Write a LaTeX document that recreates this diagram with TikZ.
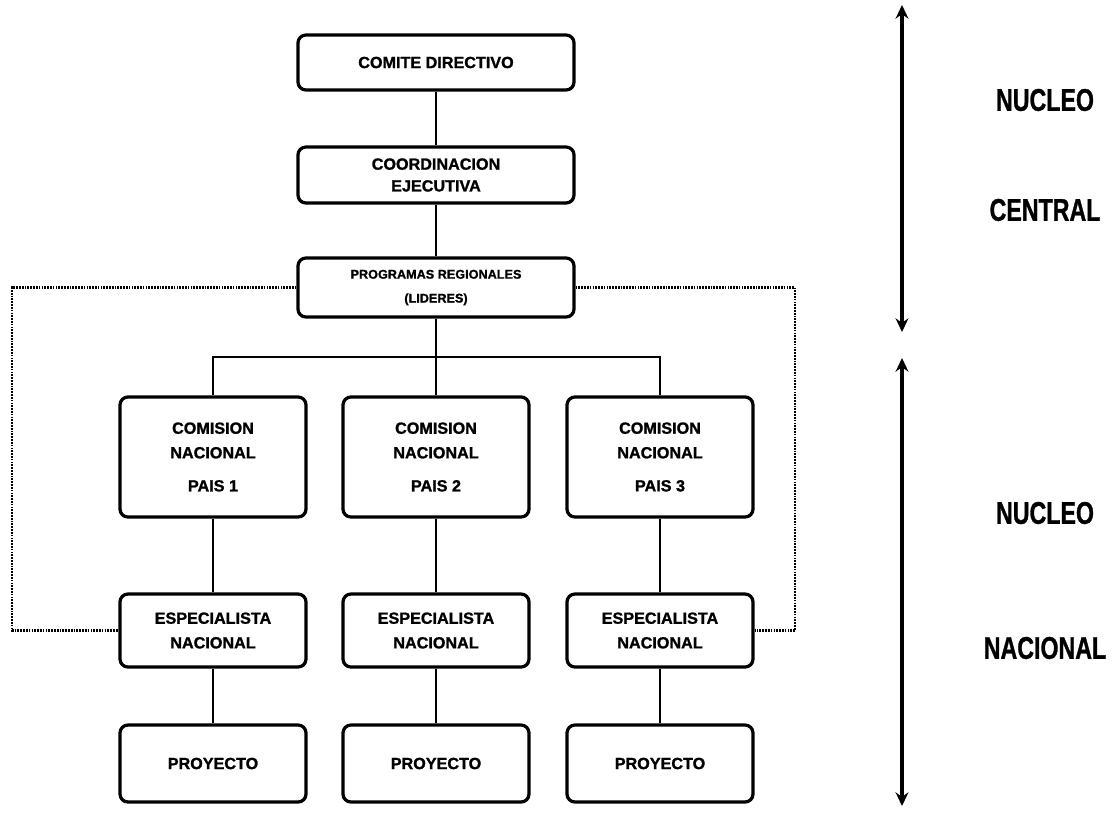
\documentclass[tikz,border=0pt]{standalone}
\usepackage{fontspec}
\setmainfont{Liberation Sans}[BoldFeatures={FakeBold=1.2}]
\usepackage{graphicx}
\usetikzlibrary{arrows.meta, positioning}

\newcommand{\sidetext}[1]{\scalebox{1}[1.35]{#1}}

\begin{document}
\begin{tikzpicture}[
    x=0.025cm, y=-0.025cm,
    box/.style={rectangle, draw=black, line width=2.3pt, rounded corners=0.2cm, align=center, inner sep=0pt, font=\fontsize{11.5}{17.5}\selectfont\bfseries},
    wide/.style={box, minimum width=6.9cm},
    cell/.style={box, minimum width=4.65cm},
    link/.style={line width=2pt},
    dots/.style={line width=1.8pt, dash pattern=on 1.2pt off 0.8pt},
    span/.style={{Stealth[length=0.34cm,width=0.32cm]}-{Stealth[length=0.34cm,width=0.32cm]}, line width=2.4pt},
    side/.style={font=\fontsize{16.5}{20}\selectfont\bfseries}
]
    \useasboundingbox (0,0) rectangle (1116,812);

    % nucleo central
    \node[wide, minimum height=1.375cm] (comite) at (436,62.5) {COMITE DIRECTIVO};
    \node[wide, minimum height=1.4cm, font=\fontsize{11.5}{15.5}\selectfont\bfseries] (coord) at (436,175) {COORDINACION\\ EJECUTIVA};
    \node[wide, minimum height=1.475cm, font=\fontsize{9}{17}\selectfont\bfseries] (prog) at (436,287.5) {PROGRAMAS REGIONALES\\ (LIDERES)};

    % nucleo nacional
    \node[cell, minimum height=3cm] (com1) at (213,457) {COMISION\\ NACIONAL\\[6pt] PAIS 1};
    \node[cell, minimum height=3cm] (com2) at (436,457) {COMISION\\ NACIONAL\\[6pt] PAIS 2};
    \node[cell, minimum height=3cm] (com3) at (660,457) {COMISION\\ NACIONAL\\[6pt] PAIS 3};

    \node[cell, minimum height=1.825cm] (esp1) at (213,630.5) {ESPECIALISTA\\ NACIONAL};
    \node[cell, minimum height=1.825cm] (esp2) at (436,630.5) {ESPECIALISTA\\ NACIONAL};
    \node[cell, minimum height=1.825cm] (esp3) at (660,630.5) {ESPECIALISTA\\ NACIONAL};

    \node[cell, minimum height=1.925cm] (proy1) at (213,763.5) {PROYECTO};
    \node[cell, minimum height=1.925cm] (proy2) at (436,763.5) {PROYECTO};
    \node[cell, minimum height=1.925cm] (proy3) at (660,763.5) {PROYECTO};

    % lineas
    \coordinate (bus) at (436,357);
    \draw[link] (comite) -- (coord);
    \draw[link] (coord) -- (prog);
    \draw[link] (prog.south) -- (com2.north);
    \draw[link] (com1.north) |- (bus) -| (com3.north);
    \draw[link] (com1) -- (esp1);
    \draw[link] (com2) -- (esp2);
    \draw[link] (com3) -- (esp3);
    \draw[link] (esp1) -- (proy1);
    \draw[link] (esp2) -- (proy2);
    \draw[link] (esp3) -- (proy3);

    % enlaces punteados
    \coordinate (dl) at (12,289);
    \coordinate (dr) at (795,289);
    \draw[dots] (prog.west) -- (prog.west -| dl) |- (esp1.west);
    \draw[dots] (prog.east) -- (prog.east -| dr) |- (esp3.east);

    % flechas laterales
    \coordinate (c1) at (902,5);
    \coordinate (c2) at (902,332);
    \coordinate (n1) at (902,358);
    \coordinate (n2) at (902,806);
    \draw[span] (c1) -- (c2);
    \draw[span] (n1) -- (n2);

    \node[side] (nucc) at (1045,100) {\sidetext{NUCLEO}};
    \node[side] (cent) at (1045,210) {\sidetext{CENTRAL}};
    \node[side] (nucn) at (1045,513) {\sidetext{NUCLEO}};
    \node[side] (naci) at (1045,648) {\sidetext{NACIONAL}};
\end{tikzpicture}
\end{document}
